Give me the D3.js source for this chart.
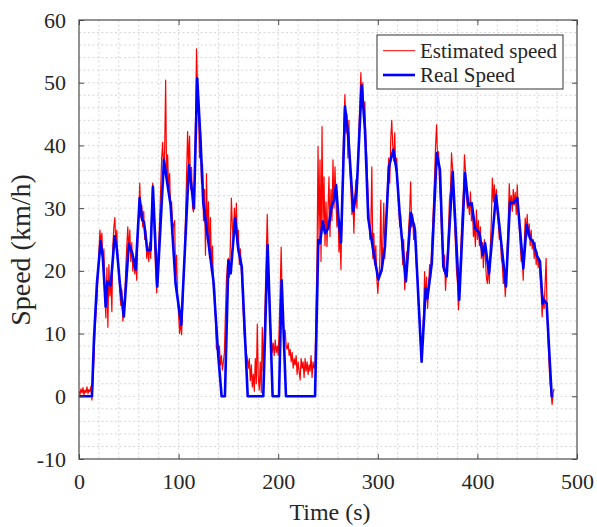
<!DOCTYPE html>
<html>
<head>
<meta charset="utf-8">
<script src="https://cdn.jsdelivr.net/npm/d3@7"></script>
<style>
html,body{margin:0;padding:0;background:#fff;}
svg text{font-family:"Liberation Serif","Times New Roman",serif;fill:#262626;}
</style>
</head>
<body>
<svg id="chart" width="597" height="527"></svg>
<script>
// ---- data ----
const xTicks = [0, 100, 200, 300, 400, 500];
const yTicks = [-10, 0, 10, 20, 30, 40, 50, 60];
const seriesNames = ["Estimated speed", "Real Speed"];

// Real speed: [time (s), speed (km/h)]
const realSpeed = [
[0,0],[13,0],[15,9],[18,18],[21.7,24.7],[24,22],[26.8,14.3],[28.5,18.3],[31.8,17.7],[35.8,25.5],[38,23.5],[41,18],[45,12.7],
[50,24.3],[53.5,22.8],[56.9,20.2],[60.9,31.6],[63.5,28.1],[65.2,27.8],[68.6,23.3],[71.9,23.3],[74.2,33.4],[78.6,17.5],
[85.3,37.7],[88.6,34],[92,30.5],[97,17.9],[102.7,11.4],[110.4,36.9],[115.4,30],[118.7,50.7],[122,40.9],[124.8,30.8],
[134.9,18.5],[139.9,6.3],[143.2,0],[146.5,0],[150,21.7],[152.3,19.6],[156.7,28.4],[160,23.3],[163.4,20.7],[169.4,0],
[185,0],[189.4,24.1],[194.4,0],[200.8,0],[203.5,18.5],[207.8,0],[237,0],[240.3,24.9],[242,24.4],[244.7,27.9],[247,26],
[250.3,26.8],[253.7,30.3],[256.1,31.3],[258.1,33.7],[260.4,28.7],[263.1,24.6],[267.1,46.2],[270.4,41.4],[275.4,29.5],
[278.8,32.9],[283.8,49.6],[287.1,42.5],[290.4,28.4],[295.5,23.1],[300.5,18.6],[303.8,20.1],[307.2,23.9],[311.2,36.6],
[315.5,39.3],[318.9,36],[322.2,28.6],[328.2,18.3],[333.3,29.2],[337.3,26.5],[344,5.5],[348.1,17.2],[349.8,15.6],
[354.2,21.2],[359.2,38.8],[362.4,36.1],[365.8,20.7],[369.1,19.1],[375.2,35.8],[381.8,15.4],[387.6,35.6],[390.9,30.5],
[394.3,30.8],[397.6,26.8],[402,26],[405.4,22.5],[407.7,24.4],[411.7,19.6],[418.7,32.1],[428.7,17.5],[432.7,31],
[436.1,30.8],[440.1,31.6],[446.1,20.4],[449.4,27.3],[452.8,25.2],[456.1,24.6],[460.1,22.3],[462.8,21.5],[465.5,14.8],
[466.9,15.4],[469.5,14.8],[474.6,0],[476.2,0]
];

// Estimated speed, one sample per second starting at t = 0 s
const estimatedSpeed = [
0.8,0.3,1.2,0.5,1.4,0.2,1.0,0.6,1.5,0.4,
1.1,0.7,1.6,-0.6,2.5,6,10.5,13,15.5,19,
23,26.5,24.5,26,21,23.5,16,12.5,20.5,11,
21,16,19,13.5,24,27,28.5,24,26.5,21,
20,16.5,14.5,17,12,13.5,16,20.5,24,27,
23,26.5,21.5,24.5,20,22,19.5,21.5,18.5,25,
29,34,28.5,30.5,27,29.5,25,26.5,22,24,
21.5,24.5,22,30,34,30,24,19.5,16.5,21,
24,28.5,33,38,40.5,36,39,50.4,34,38.5,
33,35.5,29.5,31,26,27.5,28,19,22.5,15.5,
13,10,12,9.8,14,18.5,22,29,35,42.2,
37,41.5,33,36.5,30,29.4,34,44,55.4,49,
45.5,38,42,34,37,28,33,22.5,35.5,25,
31,22,28.5,20,24,17.5,18,12.5,7.5,8,
6.5,8,5,6.5,4.2,5.5,7,13,18.5,21,
22,19,24.5,31.6,27,25,30,26,30.8,24,
26.5,21,23.5,20,17,13,9.5,8.5,7,6,
4.5,6,2.5,5,1.5,3.5,0.8,6,2,11.5,
3,1,5.5,0.6,11,4,9,16,22,29,
22,17,12,9.5,7,8.5,6.5,9,7,8,
6.5,11,17,23.8,15,12,9,10.5,8,7.5,
8.5,6.5,7.5,5.5,7,4.5,6,5,6.5,3.5,
5.5,4,2.6,6,4.5,5.5,3,6,4,5.5,
3.5,5,4,6.5,3,5.5,4.5,5,14,22,
39.8,25,37.7,21.5,43,27,35,24,31,23.9,
30,35,25.5,33,28,37.7,30,36.6,31,27,
30,23,26,20.2,30,37,44,48.1,42,45,
38,44,36,33,29,31.5,26,32,34.5,30,
37,42,47,51.6,46,50,44,47,41,38,
33,29,25,27,36.6,22,26,21,24,19,
16.4,19,21,31.3,20,24,30.8,22,27,30,
35,38,34,41,44,40,37.5,42,36,38,
33,30.5,27,29,24.4,21,25,17,20,23,
22.5,27,29.5,34.2,27,29,25,27.5,24,20,
19,14,12.5,8,5.5,9,13.2,19.9,15,19,
14,17.5,21,19,23.5,27,31,35,40,43.3,
38,39,34,31,26,23,20,22.5,16.9,20,
23,27,31.5,33,38.8,36.5,31,28,24,20,
18,13.8,17,22,26.5,30,33,38.5,36,32,
30,31,29,32.6,28,30,25.5,27,23.9,29.7,
25,28,24,27,22,24.5,20.5,25,22,19,
18,21,18,24,28,34.8,31,33.7,30,33,
29,27.5,25,26,22,21,18,19.5,15.9,19,
24,28,33.9,30,32,29.5,33,30.5,32.5,29,
33.7,30,27,24,21.5,22.5,18.5,24,28.4,26,
29,25.5,27.5,24,26.5,23.5,25,22,24.5,21,
23,20.5,22,19,17,12.7,16,14,18,22,
13,9,5,2,0.5,-1.3,0.5,1.2
];

// ---- layout ----
const svg = d3.select("#chart");
const plot = {left: 79, top: 20, right: 577, bottom: 459};
const x = d3.scaleLinear().domain([0, 500]).range([plot.left, plot.right]);
const y = d3.scaleLinear().domain([-10, 60]).range([plot.bottom, plot.top]);
const serif = '"Liberation Serif","Times New Roman",serif';

svg.append("rect").attr("x",0).attr("y",0).attr("width",597).attr("height",527).attr("fill","#fff");

// grid
const gridColor = "#d6d6d6";
const grid = svg.append("g");
grid.selectAll("line.v").data(d3.range(20, 500, 20)).join("line")
  .attr("x1", d => x(d)).attr("x2", d => x(d))
  .attr("y1", plot.top).attr("y2", plot.bottom)
  .attr("stroke", gridColor).attr("stroke-width", 1).attr("stroke-dasharray", "2,2.5");
grid.selectAll("line.h").data(d3.range(-8, 60, 2)).join("line")
  .attr("y1", d => y(d)).attr("y2", d => y(d))
  .attr("x1", plot.left).attr("x2", plot.right)
  .attr("stroke", gridColor).attr("stroke-width", 1).attr("stroke-dasharray", "2,2.5");

// clip
svg.append("clipPath").attr("id","clip").append("rect")
  .attr("x", plot.left).attr("y", plot.top)
  .attr("width", plot.right - plot.left).attr("height", plot.bottom - plot.top);

const gData = svg.append("g").attr("clip-path","url(#clip)");
const line = d3.line().x(d => x(d[0])).y(d => y(d[1]));

gData.append("path")
  .datum(estimatedSpeed.map((v, i) => [i, v]))
  .attr("d", line).attr("fill","none").attr("stroke","#ff0000").attr("stroke-width",1.2)
  .attr("stroke-linejoin","round");

gData.append("path")
  .datum(realSpeed)
  .attr("d", line).attr("fill","none").attr("stroke","#0000ff").attr("stroke-width",2.6)
  .attr("stroke-linejoin","round");

// axes
const axisColor = "#4a4a4a";
const tickLen = 5;
function styleAxis(g) {
  g.attr("font-family", serif).attr("font-size", 22);
  g.select(".domain").remove();
  g.selectAll(".tick line").attr("stroke", axisColor);
  g.selectAll(".tick text").attr("fill","#262626")
    .attr("font-family", serif).attr("font-size", 22)
    .style("font-family", serif).style("font-size","22px");
}
const fmt = d => String(d);
svg.append("g").attr("transform",`translate(0,${plot.bottom})`)
  .call(d3.axisBottom(x).tickValues(xTicks).tickFormat(fmt).tickSizeInner(-tickLen).tickSizeOuter(0).tickPadding(14))
  .call(styleAxis);
svg.append("g").attr("transform",`translate(0,${plot.top})`)
  .call(d3.axisTop(x).tickValues(xTicks).tickSizeInner(-tickLen).tickSizeOuter(0).tickFormat(""))
  .call(styleAxis);
svg.append("g").attr("transform",`translate(${plot.left},0)`)
  .call(d3.axisLeft(y).tickValues(yTicks).tickFormat(fmt).tickSizeInner(-tickLen).tickSizeOuter(0).tickPadding(13))
  .call(styleAxis);
svg.append("g").attr("transform",`translate(${plot.right},0)`)
  .call(d3.axisRight(y).tickValues(yTicks).tickSizeInner(-tickLen).tickSizeOuter(0).tickFormat(""))
  .call(styleAxis);

svg.append("rect").attr("x", plot.left).attr("y", plot.top)
  .attr("width", plot.right - plot.left).attr("height", plot.bottom - plot.top)
  .attr("fill","none").attr("stroke", axisColor).attr("stroke-width", 1.2);

// axis titles
svg.append("text").attr("x", 330).attr("y", 520).attr("text-anchor","middle")
  .style("font-size","24px").text("Time (s)");
svg.append("text").attr("transform","translate(30,250) rotate(-90)").attr("text-anchor","middle")
  .style("font-size","28px").text("Speed (km/h)");

// legend
const lg = svg.append("g");
lg.append("rect").attr("x", 377).attr("y", 35).attr("width", 186).attr("height", 54)
  .attr("fill","#fff").attr("stroke","#333").attr("stroke-width",1);
const legendColors = ["#ff0000", "#0000ff"];
const legendWidths = [1, 2.6];
seriesNames.forEach((name, i) => {
  const cy = 50.7 + i * 24.3;
  lg.append("line").attr("x1", 383).attr("x2", 415).attr("y1", cy).attr("y2", cy)
    .attr("stroke", legendColors[i]).attr("stroke-width", legendWidths[i]);
  lg.append("text").attr("x", 420).attr("y", cy + 7).style("font-size","21px").text(name);
});
</script>
</body>
</html>
